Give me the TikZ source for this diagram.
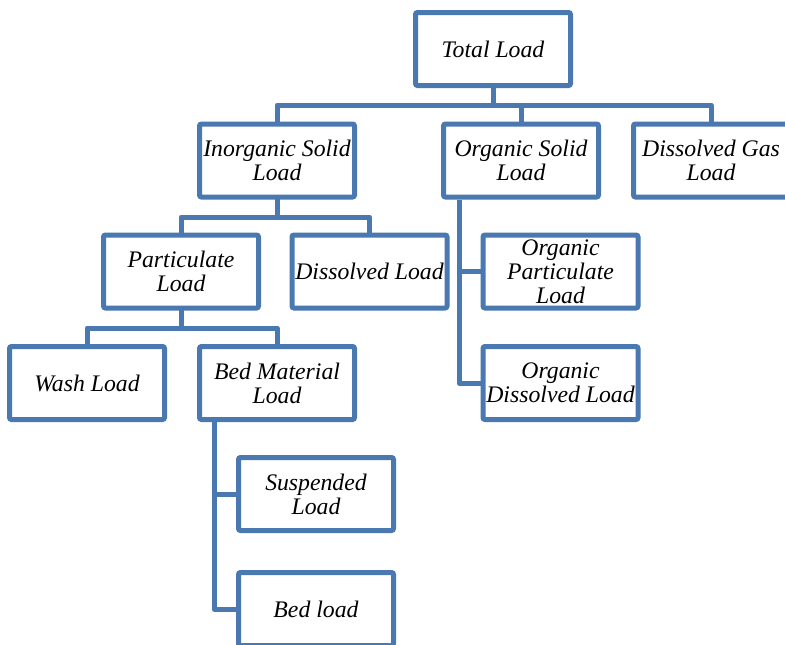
\documentclass[tikz,border=0pt]{standalone}
\usepackage{fontspec}
\setmainfont{Liberation Serif}
\definecolor{boxblue}{RGB}{74,120,176}
\begin{document}
\begin{tikzpicture}[x=0.75pt,y=-0.75pt,
  lbox/.style={draw=boxblue,line width=3.75pt,rounded corners=1.5pt,fill=white,
    minimum width=116.25pt,minimum height=54.75pt,inner sep=0pt,outer sep=0pt,
    align=center,font=\fontsize{17.8}{18}\selectfont\itshape},
  conn/.style={draw=boxblue,line width=3.75pt,line join=round}]
\useasboundingbox (0,0) rectangle (785,644);
% nodes
\node[lbox] (total) at (493,49) {Total Load};
\node[lbox] (inorg) at (277,160.5) {Inorganic Solid\\Load};
\node[lbox] (org) at (521,160.5) {Organic Solid\\Load};
\node[lbox] (gas) at (711,160.5) {Dissolved Gas\\Load};
\node[lbox] (part) at (181,271.5) {Particulate\\Load};
\node[lbox] (diss) at (369.5,271.5) {Dissolved Load};
\node[lbox] (orgpart) at (560.5,271.5) {Organic\\Particulate\\Load};
\node[lbox] (orgdiss) at (560.5,383) {Organic\\Dissolved Load};
\node[lbox] (wash) at (87,383) {Wash Load};
\node[lbox] (bedmat) at (277,383) {Bed Material\\Load};
\node[lbox] (susp) at (316,494) {Suspended\\Load};
\node[lbox] (bedload) at (316,609) {Bed load};
% bar coordinates
\coordinate (b1) at (493,105);
\coordinate (b2) at (277,217);
\coordinate (b3) at (181,328);
\coordinate (t1) at (459,200);
\coordinate (t2) at (214,420);
% connectors
\draw[conn] (total.south) -- (b1);
\draw[conn] (inorg.north) |- (b1) -| (gas.north);
\draw[conn] (org.north) -- (org.north |- b1);
\draw[conn] (inorg.south) -- (b2);
\draw[conn] (part.north) |- (b2) -| (diss.north);
\draw[conn] (part.south) -- (b3);
\draw[conn] (wash.north) |- (b3) -| (bedmat.north);
\draw[conn] (t1) |- (orgdiss.west);
\draw[conn] (t1) |- (orgpart.west);
\draw[conn] (t2) |- (bedload.west);
\draw[conn] (t2) |- (susp.west);
\end{tikzpicture}
\end{document}
